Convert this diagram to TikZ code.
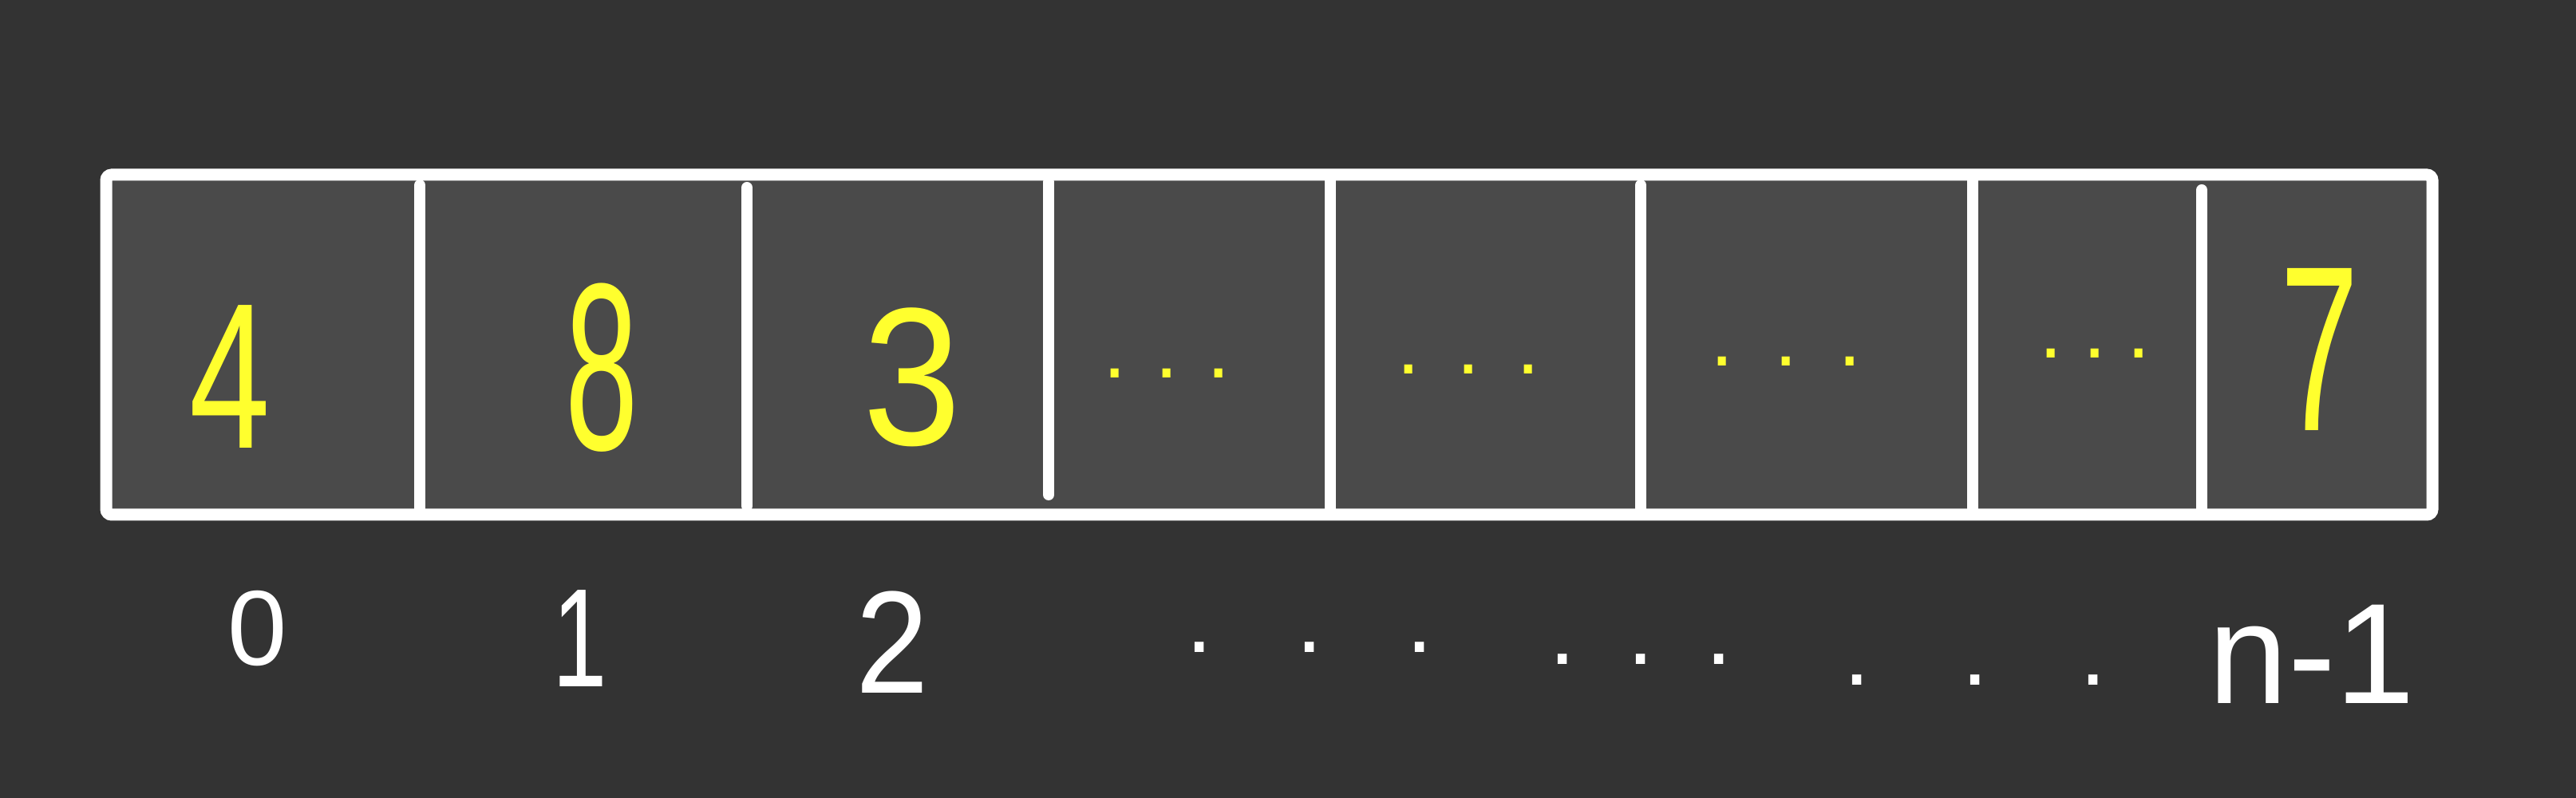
\documentclass[tikz,border=0pt]{standalone}
\usepackage{fontspec}
\setmainfont{Liberation Sans}
\usepackage{graphicx}
\definecolor{bgcol}{HTML}{333333}
\definecolor{cellcol}{HTML}{4A4A4A}
\definecolor{handyellow}{HTML}{FFFF2E}
\newcommand{\handdots}[1]{\makebox[#1]{.\hfill.\hfill.}}
\tikzset{
  border/.style={draw=white, line width=0.15cm, rounded corners=2pt, fill=cellcol},
  divider/.style={draw=white, line width=0.14cm, line cap=round},
  valuetext/.style={text=handyellow, inner sep=0pt, anchor=center},
  indextext/.style={text=white, inner sep=0pt, anchor=center},
  dotyellow/.style={text=handyellow, inner sep=0pt, anchor=base, font=\fontsize{30}{34}\selectfont},
  dotwhite/.style={text=white, inner sep=0pt, anchor=base, font=\fontsize{34}{38}\selectfont}
}
\begin{document}
\begin{tikzpicture}
\fill[bgcol] (0,0) rectangle (32.28,-10);
\useasboundingbox (0,0) rectangle (32.28,-10);
% array frame
\draw[border] (1.33,-2.19) rectangle (30.48,-6.45);
% dividers
\draw[divider] (5.26,-2.32) -- (5.26,-6.45);
\draw[divider] (9.36,-2.35) -- (9.36,-6.34);
\draw[divider] (13.14,-2.28) -- (13.14,-6.20);
\draw[divider] (16.67,-2.19) -- (16.67,-6.45);
\draw[divider] (20.56,-2.32) -- (20.56,-6.45);
\draw[divider] (24.72,-2.19) -- (24.72,-6.45);
\draw[divider] (27.59,-2.38) -- (27.59,-6.45);
% values
\node[valuetext, font=\fontsize{74}{80}\selectfont] (v0) at (2.88,-4.72) {\scalebox{0.7}[1]{4}};
\node[valuetext, font=\fontsize{85}{90}\selectfont] (v1) at (7.54,-4.61) {\scalebox{0.55}[1]{8}};
\node[valuetext, font=\fontsize{70}{76}\selectfont] (v2) at (11.43,-4.73) {\scalebox{0.9}[1]{3}};
\node[dotyellow] (v3) at (14.62,-4.74) {\handdots{1.6cm}};
\node[dotyellow] (v4) at (18.40,-4.69) {\handdots{1.8cm}};
\node[dotyellow] (v5) at (22.38,-4.59) {\handdots{1.9cm}};
\node[dotyellow] (v6) at (26.25,-4.49) {\handdots{1.4cm}};
\node[valuetext, font=\fontsize{84}{88}\selectfont] (v7) at (29.07,-4.38) {\scalebox{0.6}[1]{7}};
% indices
\node[indextext, font=\fontsize{38}{42}\selectfont] (i0) at (3.23,-7.88) {0};
\node[indextext, font=\fontsize{50}{55}\selectfont] (i1) at (7.27,-8.00) {\scalebox{0.7}[1]{1}};
\node[indextext, font=\fontsize{52}{56}\selectfont] (i2) at (11.18,-8.05) {\scalebox{0.9}[1]{2}};
\node[dotwhite] (i3) at (16.41,-8.18) {\handdots{3.1cm}};
\node[dotwhite] (i4) at (20.56,-8.33) {\handdots{2.3cm}};
\node[dotwhite] (i5) at (24.75,-8.58) {\handdots{3.3cm}};
\node[indextext, font=\fontsize{51}{55}\selectfont] (i6) at (28.97,-8.20) {n-1};
\end{tikzpicture}
\end{document}
